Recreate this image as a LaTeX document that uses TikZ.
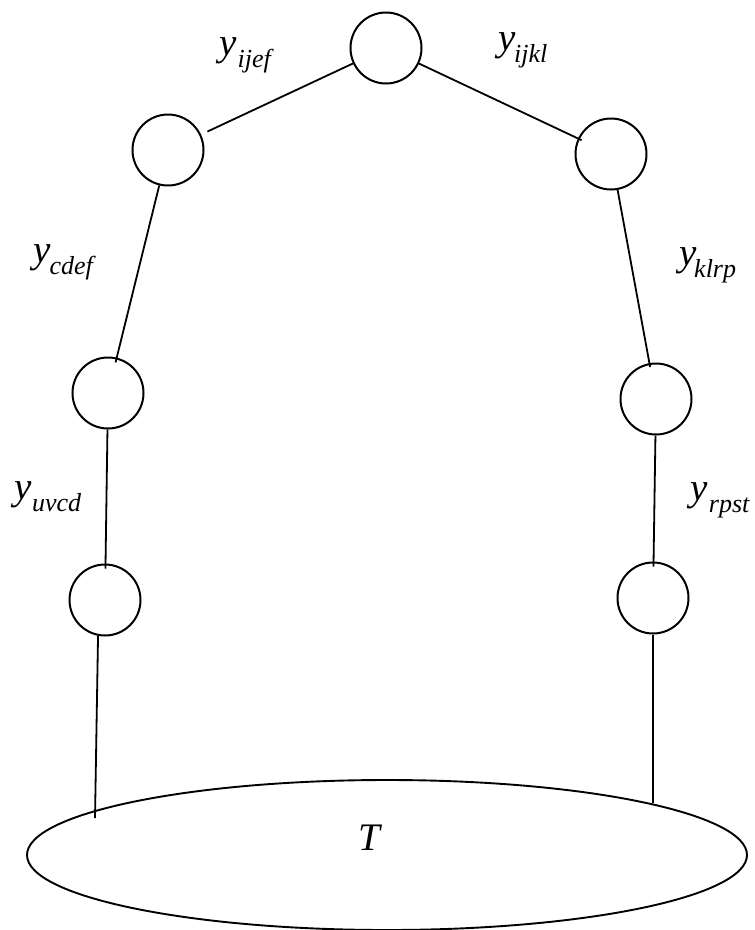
\documentclass[tikz,border=0pt]{standalone}
\usepackage{fontspec}
\setmainfont{Liberation Serif}
\usetikzlibrary{shapes.geometric}
\newcommand{\ysub}[2][0pt]{\textit{y\kern#1\raisebox{-0.3em}{\fontsize{26}{26}\selectfont #2}}}
\tikzset{
  circ/.style={circle, draw, minimum size=71pt, inner sep=0pt, line width=2pt},
  conn/.style={line width=1.8pt},
  lab/.style={inner sep=0pt, font=\fontsize{39}{40}\selectfont}
}
\begin{document}
\begin{tikzpicture}[x=1pt,y=-1pt]
\useasboundingbox (0,0) rectangle (755,930);
\node[circ] (top) at (386,48) {};
\node[circ] (L2) at (168,150) {};
\node[circ] (R2) at (611,154) {};
\node[circ] (L3) at (108,393) {};
\node[circ] (R3) at (656,399) {};
\node[circ] (L4) at (105,600) {};
\node[circ] (R4) at (653,598) {};
\node[draw, ellipse, minimum width=720pt, minimum height=150pt, inner sep=0pt, line width=1.9pt] (E) at (387,855) {};
\node[lab] (T) at (370,838) {\textit{T}};
\coordinate (eL) at (95,818);
\coordinate (eR) at (653,803);
\draw[conn, shorten <=7pt] (L2) -- (top);
\draw[conn, shorten >=-4pt] (top) -- (R2);
\draw[conn, shorten >=-5pt] (L2) -- (L3);
\draw[conn, shorten >=-4pt] (R2) -- (R3);
\draw[conn, shorten >=-5pt] (L3) -- (L4);
\draw[conn, shorten >=-5pt] (R3) -- (R4);
\draw[conn] (L4.259) -- (eL);
\draw[conn] (R4.south) -- (eR);
\node[lab] (lijef) at (245,55) {\ysub[1pt]{ijef}};
\node[lab] (lijkl) at (523,50) {\ysub[-2pt]{ijkl}};
\node[lab] (lcdef) at (63,262) {\ysub[-1pt]{cdef}};
\node[lab] (lklrp) at (708,265) {\ysub[-3pt]{klrp}};
\node[lab] (luvcd) at (48,497) {\ysub[0pt]{uvcd}};
\node[lab] (lrpst) at (720,500) {\ysub[1pt]{rpst}};
\end{tikzpicture}
\end{document}
